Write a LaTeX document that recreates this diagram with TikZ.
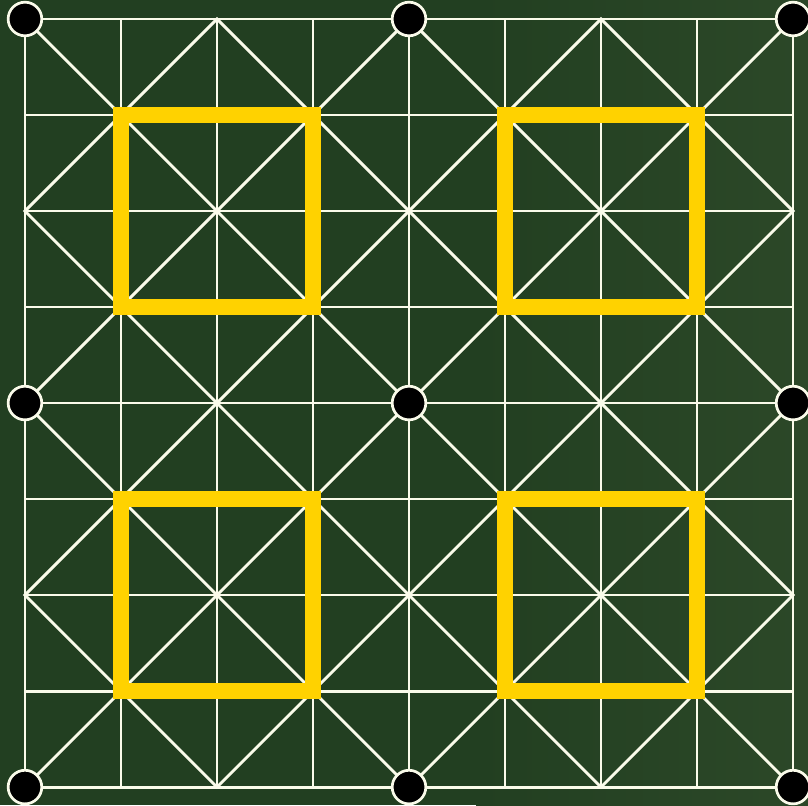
\documentclass[tikz,border=0pt]{standalone}
\usepackage{tikz}
\usetikzlibrary{positioning}
\definecolor{boardgreen}{HTML}{223F21}
\definecolor{boardgreenlight}{HTML}{2C4828}
\definecolor{chalk}{HTML}{FAFBEA}
\definecolor{campgold}{HTML}{FFD200}

\begin{document}
\begin{tikzpicture}[
  x=1cm,y=1cm,
  boardline/.style={draw=chalk, line width=0.85pt},
  camp/.style={draw=campgold, line width=4.7pt},
  post/.style={circle, fill=black, draw=chalk, line width=0.8pt, minimum size=0.35cm, inner sep=0pt}
]
\useasboundingbox (-0.26,-0.19) rectangle (8.156,8.198);
\fill[boardgreen] (-0.26,-0.19) rectangle (4.7,8.198);
\shade[left color=boardgreen, right color=boardgreenlight] (4.7,-0.19) rectangle (8.156,8.198);
% grid
\foreach \i in {0,...,8} {
  \draw[boardline] (\i,0) -- (\i,8);
  \draw[boardline] (0,\i) -- (8,\i);
}
% diagonals, one set per quarter
\foreach \qx in {0,4} \foreach \qy in {0,4} {
  \draw[boardline] (\qx,\qy) -- ++(4,4);
  \draw[boardline] (\qx+4,\qy) -- ++(-4,4);
  \draw[boardline] (\qx+2,\qy) -- ++(2,2) -- ++(-2,2) -- ++(-2,-2) -- cycle;
}
% camps
\foreach \qx in {0,4} \foreach \qy in {0,4}
  \draw[camp] (\qx+1,\qy+1) rectangle ++(2,2);
% posts
\foreach \r in {0,1,2} \foreach \c in {0,1,2}
  \node[post] (post\r\c) at (4*\c,4*\r) {};
\end{tikzpicture}
\end{document}
